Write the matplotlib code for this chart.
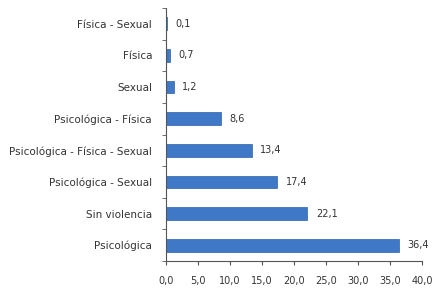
import numpy as np
import matplotlib.pyplot as plt
from matplotlib.ticker import FuncFormatter

plt.rcParams['font.family'] = ['Liberation Sans Narrow', 'DejaVu Sans']

# categories from top to bottom as shown
categorias = ["Física - Sexual", "Física", "Sexual", "Psicológica - Física",
              "Psicológica - Física - Sexual", "Psicológica - Sexual",
              "Sin violencia", "Psicológica"]
valores = [0.1, 0.7, 1.2, 8.6, 13.4, 17.4, 22.1, 36.4]
xticks = [0, 5, 10, 15, 20, 25, 30, 35, 40]


def main():
    fig = plt.figure(figsize=(4.36, 2.92), dpi=100)
    ax = fig.add_axes([166 / 436, 31 / 292, 256 / 436, 253 / 292])

    y = np.arange(len(categorias))[::-1]
    ax.barh(y, valores, height=0.4, color="#3f78c6", edgecolor="#2f62a8", linewidth=0.5)

    for yi, v in zip(y, valores):
        ax.text(v + 1.3, yi, ("%.1f" % v).replace(".", ","), va="center", ha="left",
                fontsize=7, color="#333333")

    ax.set_yticks(y)
    ax.set_yticklabels(categorias, fontsize=7.5, color="#333333")
    ax.set_yticks(np.arange(-0.5, len(categorias), 1.0), minor=True)
    ax.tick_params(axis="y", which="major", length=0, pad=10)
    ax.tick_params(axis="y", which="minor", length=3, color="#555555")

    ax.set_xlim(0, 40)
    ax.set_ylim(-0.5, len(categorias) - 0.5)
    ax.set_xticks(xticks)
    ax.xaxis.set_major_formatter(FuncFormatter(lambda v, p: ("%.1f" % v).replace(".", ",")))
    ax.tick_params(axis="x", labelsize=7, labelcolor="#333333", length=3, color="#555555", pad=8)

    for s in ["top", "right"]:
        ax.spines[s].set_visible(False)
    ax.spines["left"].set_color("#555555")
    ax.spines["bottom"].set_color("#555555")

    fig.savefig("out.png", dpi=100)


if __name__ == "__main__":
    main()
